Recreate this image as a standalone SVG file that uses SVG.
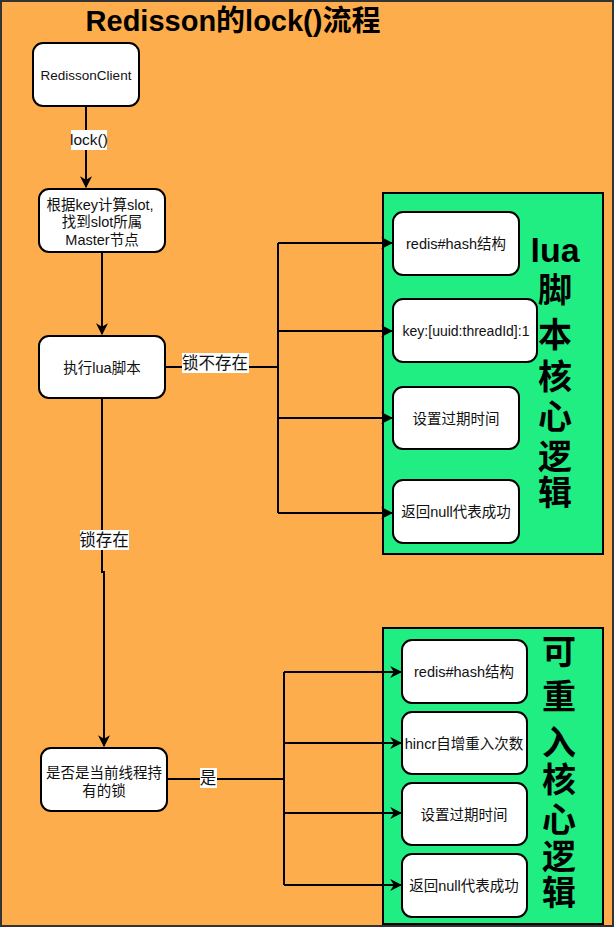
<svg xmlns="http://www.w3.org/2000/svg" width="616" height="929" viewBox="0 0 616 929">
  <defs>
    <style>
      .box { fill: #ffffff; stroke: #000000; stroke-width: 2; }
      .panel { fill: #20EE82; stroke: #000000; stroke-width: 2; }
      .t { font-family: "Liberation Sans", "Noto Sans CJK SC", sans-serif; font-size: 14.5px; fill: #111111; text-anchor: middle; }
      .el { font-size: 16.5px; }
      .big { font-family: "Liberation Sans", "Noto Sans CJK SC", sans-serif; font-weight: bold; font-size: 34px; fill: #000000; text-anchor: middle; }
      .line { fill: none; stroke: #000000; stroke-width: 2; }
      .lbl { fill: #ffffff; }
    </style>
    <marker id="arrS" viewBox="0 0 10 10" refX="9" refY="5" markerWidth="12" markerHeight="12" markerUnits="userSpaceOnUse" orient="auto">
      <path d="M0,0 L10,5 L0,10 L3,5 Z" fill="#000000"/>
    </marker>
  </defs>

  <!-- background frame -->
  <rect x="1" y="1" width="612" height="925" fill="#FDAD4B" stroke="#333333" stroke-width="2"/>

  <!-- title -->
  <text x="233" y="31" font-family="Liberation Sans, Noto Sans CJK SC, sans-serif" font-weight="bold" font-size="29" text-anchor="middle" fill="#000000">Redisson的lock()流程</text>

  <!-- green panels -->
  <rect id="panel-lua" class="panel" x="383" y="193" width="220" height="361"/>
  <rect id="panel-reentrant" class="panel" x="383" y="628" width="220" height="296"/>

  <!-- connectors -->
  <g id="connectors">
    <line class="line" x1="86" y1="106" x2="86" y2="187" marker-end="url(#arrS)"/>
    <line class="line" x1="102" y1="252" x2="102" y2="334" marker-end="url(#arrS)"/>
    <polyline class="line" points="102,398 102,572 104,572 104,746" marker-end="url(#arrS)"/>
    <!-- lock absent branch -->
    <polyline class="line" points="165,367 278,367"/>
    <line class="line" x1="278" y1="243" x2="278" y2="513"/>
    <line class="line" x1="278" y1="243" x2="392" y2="243" marker-end="url(#arrS)"/>
    <line class="line" x1="278" y1="331" x2="392" y2="331" marker-end="url(#arrS)"/>
    <line class="line" x1="278" y1="418" x2="392" y2="418" marker-end="url(#arrS)"/>
    <line class="line" x1="278" y1="513" x2="392" y2="513" marker-end="url(#arrS)"/>
    <!-- reentrant branch -->
    <line class="line" x1="167" y1="779" x2="284" y2="779"/>
    <line class="line" x1="284" y1="672" x2="284" y2="885"/>
    <line class="line" x1="284" y1="672" x2="401" y2="672" marker-end="url(#arrS)"/>
    <line class="line" x1="284" y1="743" x2="401" y2="743" marker-end="url(#arrS)"/>
    <line class="line" x1="284" y1="813" x2="401" y2="813" marker-end="url(#arrS)"/>
    <line class="line" x1="284" y1="885" x2="401" y2="885" marker-end="url(#arrS)"/>

    <!-- edge labels -->
    <rect class="lbl" x="71" y="130" width="36" height="20"/>
    <text class="t" x="89" y="145" style="font-size:15.5px">lock()</text>
    <rect class="lbl" x="182" y="353" width="67" height="20"/>
    <text class="t el" x="215" y="369">锁不存在</text>
    <rect class="lbl" x="80" y="530" width="49" height="20"/>
    <text class="t el" x="104" y="546">锁存在</text>
    <rect class="lbl" x="200" y="768" width="17" height="20"/>
    <text class="t el" x="208" y="784">是</text>
  </g>

  <!-- left column -->
  <g id="redisson-client">
    <rect class="box" x="33" y="43" width="106" height="63" rx="10"/>
    <text class="t" x="86" y="80" style="font-size:13.5px">RedissonClient</text>
  </g>
  <g id="calc-slot">
    <rect class="box" x="39" y="189" width="126" height="63" rx="10"/>
    <text class="t" x="100" y="210">根据key计算slot,</text>
    <text class="t" x="102" y="227">找到slot所属</text>
    <text class="t" x="102" y="245">Master节点</text>
  </g>
  <g id="exec-lua">
    <rect class="box" x="39" y="336" width="126" height="62" rx="10"/>
    <text class="t" x="102" y="373">执行lua脚本</text>
  </g>
  <g id="check-owner">
    <rect class="box" x="41" y="748" width="126" height="63" rx="10"/>
    <text class="t" x="104" y="778">是否是当前线程持</text>
    <text class="t" x="104" y="796">有的锁</text>
  </g>

  <!-- lua script steps -->
  <g id="lua-hash">
    <rect class="box" x="393" y="212" width="126" height="63" rx="10"/>
    <text class="t" x="456" y="249">redis#hash结构</text>
  </g>
  <g id="lua-key">
    <rect class="box" x="393" y="299" width="144" height="63" rx="10"/>
    <text class="t" x="466" y="336" style="font-size:14px">key:[uuid:threadId]:1</text>
  </g>
  <g id="lua-expire">
    <rect class="box" x="393" y="387" width="126" height="62" rx="10"/>
    <text class="t" x="456" y="424">设置过期时间</text>
  </g>
  <g id="lua-return">
    <rect class="box" x="393" y="480" width="126" height="63" rx="10"/>
    <text class="t" x="456" y="517">返回null代表成功</text>
  </g>

  <!-- reentrant steps -->
  <g id="re-hash">
    <rect class="box" x="402" y="640" width="125" height="63" rx="10"/>
    <text class="t" x="464" y="677">redis#hash结构</text>
  </g>
  <g id="re-hincr">
    <rect class="box" x="402" y="712" width="125" height="62" rx="10"/>
    <text class="t" x="464" y="749">hincr自增重入次数</text>
  </g>
  <g id="re-expire">
    <rect class="box" x="402" y="783" width="125" height="62" rx="10"/>
    <text class="t" x="464" y="820">设置过期时间</text>
  </g>
  <g id="re-return">
    <rect class="box" x="402" y="854" width="125" height="63" rx="10"/>
    <text class="t" x="464" y="891">返回null代表成功</text>
  </g>

  <!-- panel captions -->
  <g id="caption-lua">
    <text class="big" x="555" y="262">lua</text>
    <text class="big" x="555" y="302">脚</text>
    <text class="big" x="555" y="347">本</text>
    <text class="big" x="555" y="389">核</text>
    <text class="big" x="555" y="429">心</text>
    <text class="big" x="555" y="469">逻</text>
    <text class="big" x="555" y="505">辑</text>
  </g>
  <g id="caption-reentrant">
    <text class="big" x="559" y="664">可</text>
    <text class="big" x="559" y="709">重</text>
    <text class="big" x="559" y="755">入</text>
    <text class="big" x="559" y="792">核</text>
    <text class="big" x="559" y="832">心</text>
    <text class="big" x="559" y="869">逻</text>
    <text class="big" x="559" y="905">辑</text>
  </g>
</svg>
